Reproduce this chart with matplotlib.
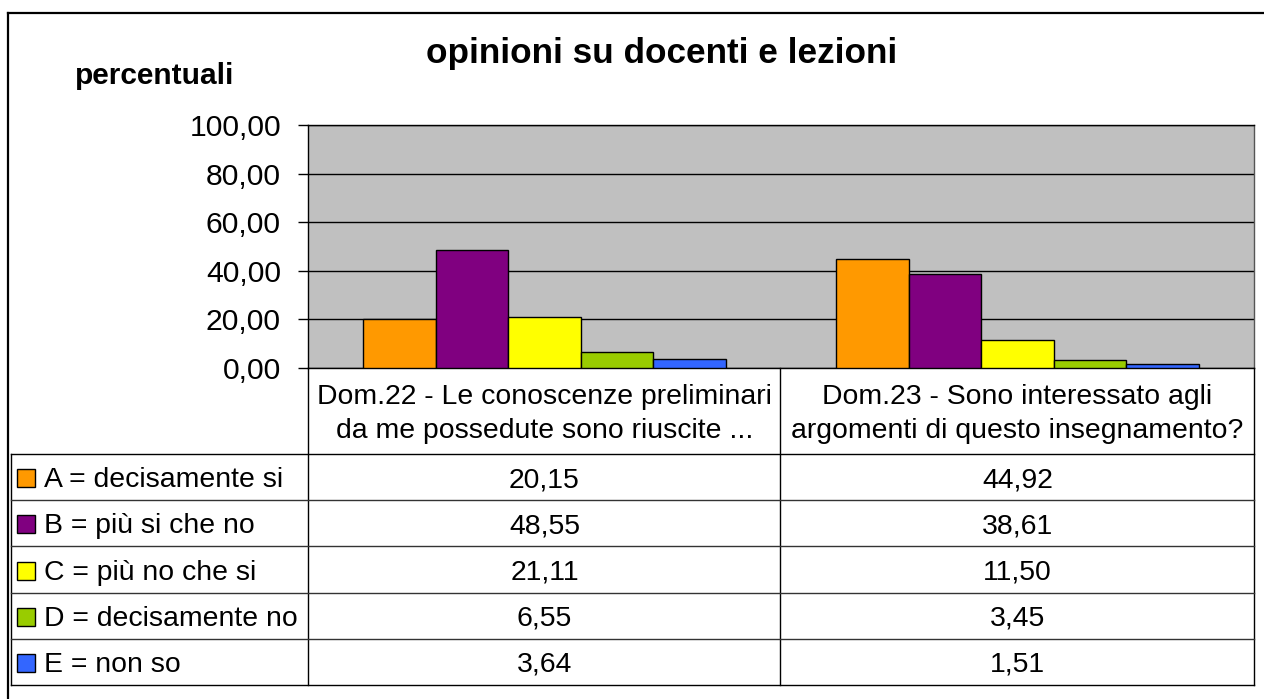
import matplotlib
matplotlib.use("Agg")
import matplotlib.pyplot as plt
from matplotlib.transforms import blended_transform_factory
from matplotlib.ticker import FuncFormatter
from matplotlib.patches import Rectangle

plt.rcParams['font.family'] = ['Liberation Sans', 'DejaVu Sans']

# ---- data ----
title = "opinioni su docenti e lezioni"
ylabel = "percentuali"
categories = ["Dom.22 - Le conoscenze preliminari\nda me possedute sono riuscite ...",
              "Dom.23 - Sono interessato agli\nargomenti di questo insegnamento?"]
series_names = ["A = decisamente si", "B = più si che no", "C = più no che si",
                "D = decisamente no", "E = non so"]
series_values = [
    [20.15, 44.92],
    [48.55, 38.61],
    [21.11, 11.50],
    [6.55, 3.45],
    [3.64, 1.51],
]
series_colors = ["#FF9900", "#800080", "#FFFF00", "#99CC00", "#3366FF"]
yticks = [0, 20, 40, 60, 80, 100]

W, H = 1264, 699
fig = plt.figure(figsize=(W / 100, H / 100), dpi=100)
fig.patch.set_facecolor("white")

# plot area
x0, x1, ytop, ybot = 308, 1254, 125, 368
ax = fig.add_axes([x0 / W, 1 - ybot / H, (x1 - x0) / W, (ybot - ytop) / H])
ax.set_facecolor("#C0C0C0")
ax.set_xlim(-0.5, len(categories) - 0.5)
ax.set_ylim(0, 100)

n = len(series_names)
bw = 0.1535
start = -bw * n / 2
for j, (name, vals, col) in enumerate(zip(series_names, series_values, series_colors)):
    xs = [i + start + (j + 0.5) * bw for i in range(len(categories))]
    ax.bar(xs, vals, width=bw, color=col, edgecolor="black", linewidth=1.0, zorder=3)

ax.set_yticks(yticks)
ax.yaxis.set_major_formatter(FuncFormatter(lambda v, p: f"{v:.2f}".replace(".", ",")))
ax.tick_params(axis="y", length=7.5, width=1.0, pad=12, labelsize=21.7, direction="out")
ax.set_xticks([])
ax.grid(axis="y", color="black", linewidth=1.0, zorder=1)
for s in ax.spines.values():
    s.set_color("black")
    s.set_linewidth(1.0)
ax.spines["right"].set_color("#555555")

# overlay for table and frame (pixel coordinates)
tab = fig.add_axes([0, 0, 1, 1], zorder=5)
tab.set_xlim(0, W)
tab.set_ylim(H, 0)
tab.axis("off")
tab.patch.set_alpha(0)
bl = blended_transform_factory(ax.transData, tab.transData)

# outer frame
tab.plot([7.5, 7.5], [13, H], color="black", lw=1.6)
tab.plot([7.5, W], [13, 13], color="black", lw=1.6)

# title texts
tab.text(662, 54, title, ha="center", va="center", fontsize=25.3, fontweight="bold")
tab.text(155, 76, ylabel, ha="center", va="center", fontsize=21.5, fontweight="bold")

# table geometry
hdr_top, hdr_bot, tbl_bot = 368, 454, 685
tl, xmid = 11, 780
rh = (tbl_bot - hdr_bot) / n
lc = "black"
for xv in (x0, xmid, x1):
    tab.plot([xv, xv], [hdr_top, tbl_bot], color=lc, lw=1.0)
tab.plot([tl, tl], [hdr_bot, tbl_bot], color=lc, lw=1.0)
for k in range(n + 1):
    yv = hdr_bot + k * rh
    tab.plot([tl, x1], [yv, yv], color=lc if k in (0, n) else "#333333", lw=1.0)

fs = 20.4
for i, cat in enumerate(categories):
    tab.text(i, (hdr_top + hdr_bot) / 2 + 3, cat, transform=bl, ha="center", va="center",
             fontsize=fs, linespacing=1.42)

for j, (name, vals, col) in enumerate(zip(series_names, series_values, series_colors)):
    yc = hdr_bot + (j + 0.5) * rh
    tab.add_patch(Rectangle((17, yc - 8), 18, 18, facecolor=col, edgecolor="black", lw=1.0))
    tab.text(44, yc + 3, name, ha="left", va="center", fontsize=fs)
    for i, v in enumerate(vals):
        tab.text(i, yc + 3, f"{v:.2f}".replace(".", ","), transform=bl, ha="center",
                 va="center", fontsize=fs)

fig.savefig("out.png", dpi=100)
